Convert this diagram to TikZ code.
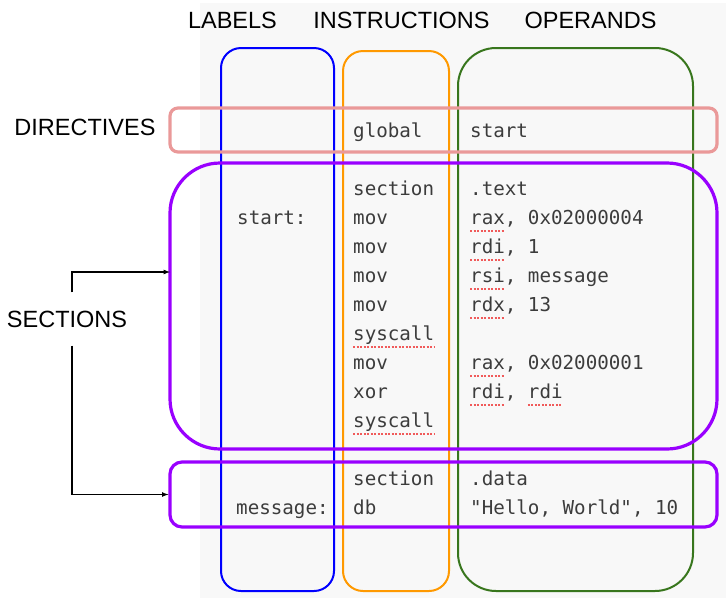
\documentclass[tikz,border=0pt]{standalone}
\usepackage{fontspec}
\setmainfont{Liberation Sans}
\newfontfamily\codefont[Ligatures=TeXOff]{DejaVu Sans Mono}

\definecolor{codebg}{RGB}{248,248,248}
\definecolor{codetext}{RGB}{60,60,60}
\definecolor{lblue}{RGB}{0,0,255}
\definecolor{iorange}{RGB}{255,153,0}
\definecolor{ogreen}{RGB}{56,118,29}
\definecolor{dpink}{RGB}{234,153,153}
\definecolor{spurple}{RGB}{153,0,255}
\definecolor{squigred}{RGB}{240,90,90}

\tikzset{
	head/.style={font=\fontsize{23.5}{28}\selectfont, inner sep=0pt},
	code/.style={font=\codefont\fontsize{19.2}{23}\selectfont, text=codetext, anchor=base west, inner sep=0pt},
	colbox/.style={draw, line width=2pt, inner sep=0pt},
	rowbox/.style={draw, line width=3.2pt, inner sep=0pt, minimum width=547pt},
	squig/.style={squigred, line width=1.5pt, dash pattern=on 2pt off 1.5pt},
}

\begin{document}
\begin{tikzpicture}[x=1pt, y=-1pt]
	\useasboundingbox (0,0) rectangle (726,598);
	\fill[codebg] (200,3) rectangle (726,598);

	% column headers
	\node[head] (hL) at (232.5,20) {LABELS};
	\node[head] (hI) at (401.5,20) {INSTRUCTIONS};
	\node[head] (hO) at (590.5,20) {OPERANDS};
	\node[head] (dir) at (85,127) {DIRECTIVES};
	\node[head, inner ysep=18pt] (sec) at (67,319) {SECTIONS};

	% columns
	\node[colbox, draw=lblue, rounded corners=20pt, minimum width=113pt, minimum height=543pt] (labcol) at (277.5,319.5) {};
	\node[colbox, draw=iorange, rounded corners=20pt, minimum width=106pt, minimum height=540pt] (inscol) at (396,321) {};
	\node[colbox, draw=ogreen, rounded corners=38pt, minimum width=235pt, minimum height=543pt] (opcol) at (575.5,319.5) {};

	% rows
	\node[rowbox, draw=dpink, rounded corners=8pt, minimum height=44pt] (dirbox) at (443.5,130) {};
	\node[rowbox, draw=spurple, rounded corners=50pt, minimum height=286pt] (textsec) at (443.5,306) {};
	\node[rowbox, draw=spurple, rounded corners=12pt, minimum height=65pt] (datasec) at (443.5,494.5) {};

	% code
	\node[code] (i1) at (353,137) {global};
	\node[code] (o1) at (470,137) {start};
	\node[code] (i2) at (353,195) {section};
	\node[code] (o2) at (470,195) {.text};
	\node[code] (l1) at (237,224) {start:};
	\node[code] (i3) at (353,224) {mov};
	\node[code] (o3) at (470,224) {rax, 0x02000004};
	\node[code] (i4) at (353,253) {mov};
	\node[code] (o4) at (470,253) {rdi, 1};
	\node[code] (i5) at (353,282) {mov};
	\node[code] (o5) at (470,282) {rsi, message};
	\node[code] (i6) at (353,311) {mov};
	\node[code] (o6) at (470,311) {rdx, 13};
	\node[code] (i7) at (353,340) {syscall};
	\node[code] (i8) at (353,369) {mov};
	\node[code] (o8) at (470,369) {rax, 0x02000001};
	\node[code] (i9) at (353,398) {xor};
	\node[code] (o9) at (470,398) {rdi, rdi};
	\node[code] (i10) at (353,427) {syscall};
	\node[code] (i12) at (353,485) {section};
	\node[code] (o12) at (470,485) {.data};
	\node[code] (l2) at (236,514) {message:};
	\node[code] (i13) at (353,514) {db};
	\node[code] (o13) at (470,514) {"Hello, World", 10};

	% spell check marks
	\draw[squig] ([yshift=-7pt]o3.base west) -- +(34.7,0);
	\draw[squig] ([yshift=-7pt]o4.base west) -- +(34.7,0);
	\draw[squig] ([yshift=-7pt]o5.base west) -- +(34.7,0);
	\draw[squig] ([yshift=-7pt]o6.base west) -- +(34.7,0);
	\draw[squig] ([yshift=-7pt]i7.base west) -- +(81,0);
	\draw[squig] ([yshift=-7pt]o8.base west) -- +(34.7,0);
	\draw[squig] ([yshift=-7pt]o9.base west) -- +(34.7,0);
	\draw[squig] ([yshift=-7pt,xshift=57.8pt]o9.base west) -- +(34.7,0);
	\draw[squig] ([yshift=-7pt]i10.base west) -- +(81,0);

	% arrows
	\coordinate (textin) at (170,272);
	\draw[->, >=latex, line width=1.2pt] ([xshift=5pt]sec.north) |- (textin);
	\draw[->, >=latex, line width=1.2pt] ([xshift=5pt]sec.south) |- (datasec.west);
\end{tikzpicture}
\end{document}
